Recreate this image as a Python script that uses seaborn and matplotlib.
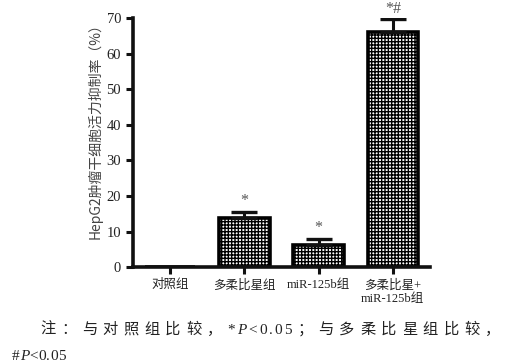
import numpy as np
import pandas as pd
import matplotlib
matplotlib.use('Agg')
import matplotlib.pyplot as plt
import seaborn as sns

sns.set_style('ticks')
plt.rcParams['font.family'] = ['Liberation Serif', 'Noto Sans CJK SC']
plt.rcParams['hatch.linewidth'] = 1.0

groups = ['对照组', '多柔比星组', 'miR-125b组', '多柔比星+\nmiR-125b组']
rates = [0.0, 13.8, 6.2, 66.0]
errors = [0.0, 1.7, 1.7, 3.7]
marks = ['', '*', '*', '*#']

note_line1 = '注：与对照组比较，*P<0.05；与多柔比星组比较，'
note_line2 = '#P<0.05'

df = pd.DataFrame({'group': groups, 'rate': rates})

fig = plt.figure(figsize=(5.07, 3.63), dpi=100)
ax = fig.add_axes([0.262, 0.264, 0.586, 0.686])

sns.barplot(data=df, x='group', y='rate', ax=ax, color='white',
            edgecolor='black', linewidth=2.6, width=0.68,
            errorbar=None, hatch='+++++')

xs = np.arange(len(groups))
for x, r, e in zip(xs, rates, errors):
    if e > 0:
        ax.errorbar(x, r, yerr=[[0], [e]], fmt='none', ecolor='#111111',
                    elinewidth=2.2, capsize=9.5, capthick=2.4, zorder=1)

for x, r, e, m in zip(xs, rates, errors, marks):
    if m:
        ax.text(x, r + e + 3.0, m, ha='center', va='center', fontsize=11.5,
                color='#555555', clip_on=False)

ax.set_xlim(-0.5, 3.5)
ax.set_ylim(0, 70)
ax.set_yticks(range(0, 71, 10))
ax.set_xlabel('')
ax.set_ylabel('HepG2肿瘤干细胞活力抑制率（%）', family=['Noto Sans CJK SC'],
              fontsize=10, color='#444444', labelpad=3)
ax.yaxis.label.set_y(0.56)
ax.tick_params(axis='both', direction='out', width=2.2, length=5,
               colors='#111111', labelcolor='#222222')
ax.tick_params(axis='x', labelsize=9)
ax.tick_params(axis='y', labelsize=10.5)
for side in ['left', 'bottom']:
    ax.spines[side].set_linewidth(2.6)
    ax.spines[side].set_color('#111111')
sns.despine(ax=ax)

renderer = fig.canvas.get_renderer()
fig_w = fig.bbox.width


def spaced_note(x_px, y, text, size=11, cjk_gap=5.6, latin_gap=2.0):
    # place characters one by one to get the wide spacing of the caption
    for i, ch in enumerate(text):
        t = fig.text(x_px / fig_w, y, ch, fontsize=size, color='#222222',
                     va='baseline', style='italic' if ch == 'P' else 'normal')
        bb = t.get_window_extent(renderer)
        nxt = text[i + 1] if i + 1 < len(text) else ''
        gap = cjk_gap if ord(ch) > 127 or (nxt and ord(nxt) > 127) else latin_gap
        x_px = bb.x1 + gap


spaced_note(40, 0.08, note_line1)
spaced_note(12, 0.008, note_line2, latin_gap=0.3)

fig.savefig('out.png', dpi=100)
